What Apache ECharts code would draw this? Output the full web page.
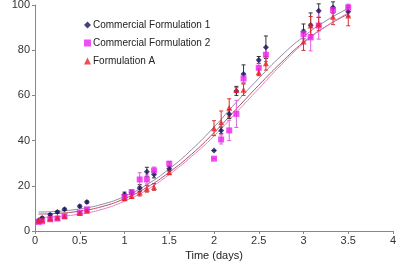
<!DOCTYPE html>
<html>
<head>
<meta charset="utf-8">
<script src="https://cdn.jsdelivr.net/npm/echarts@6/dist/echarts.min.js"></script>
<style>
  html, body { margin: 0; padding: 0; background: #fff; }
  #chart { width: 397px; height: 261px; }
</style>
</head>
<body>
<div id="chart"></div>
<script>
// sampling times (days)
const times = [0.04, 0.08, 0.17, 0.25, 0.33, 0.5, 0.58, 1, 1.08, 1.17, 1.25, 1.33, 1.5,
  2, 2.08, 2.17, 2.25, 2.33, 2.5, 2.58, 3, 3.08, 3.17, 3.33, 3.5];

// cumulative % released
const cf1 = [4.7, 5.7, 7.2, 8.4, 9.6, 11, 12.8, 16.2, 17, 19, 26.2, 25, 27.5,
  35.6, 44.5, 51.8, 62, 69.5, 75.7, 81.3, 88.3, 91, 97.5, 98.9, 97];
const cf2 = [4, 4.3, 5.2, 5.5, 6.6, 8.1, 9.6, 15, 17.2, 22.8, 22.8, 26.8, 29.8,
  32, 40.5, 44.5, 51.8, 67.5, 72.2, 78, 87.2, 85.7, 90.9, 97.8, 98.9];
const fa = [4.5, 5, 5.5, 6, 6.5, 8, 9, 14.5, 15.5, 17, 18.7, 19.5, 26,
  45.5, 48.1, 54.5, 62.4, 62.5, 70.2, 74.2, 83.9, 90.9, 91.6, 94.8, 95.3];

// error bars (+/-)
const cf1Err = [0.5, 0.5, 0.5, 0.5, 0.5, 0.5, 0.5, 1, 1, 1.5, 2, 1.5, 1,
  0, 1.5, 2, 2, 4, 1.5, 5, 3.3, 5.5, 3, 2.5, 2];
const cf2Err = [0.5, 0.5, 0.5, 0.5, 0.5, 0.5, 0.5, 1, 1, 3, 2, 1.5, 1,
  0, 2, 4.5, 6, 2, 3, 3, 2, 6, 6, 1.5, 1.5];
const faErr = [0.5, 0.5, 0.5, 0.5, 0.5, 0.5, 0.5, 1, 1, 1.5, 1.5, 1.5, 1,
  3.3, 5, 4, 1, 2.5, 1.5, 3, 4, 4, 3, 3.5, 4.5];

// fitted curves
const fitX = [0.04, 0.25, 0.5, 0.75, 1, 1.25, 1.5, 1.75, 2, 2.25, 2.5, 2.75, 3, 3.25, 3.5];
const fit1 = [8.4, 8.7, 9.8, 11.8, 15.3, 20.5, 27.5, 36, 46, 57, 67.5, 77.5, 86, 93, 98.5];
const fit2 = [7.5, 7.8, 8.8, 10.8, 14.3, 19.3, 26, 34, 43.5, 54, 64.5, 74.5, 83.5, 90.5, 96];
const fit3 = [6, 6.4, 7.5, 9.6, 13.2, 18.2, 25, 33, 42, 52.5, 63, 73.5, 83, 90.5, 96.5];

const names = ['Commercial Formulation 1', 'Commercial Formulation 2', 'Formulation A'];
const colors = ['#14145e', '#ee22ee', '#e8202a'];

function pairs(xs, ys) { return xs.map((x, i) => [x, ys[i]]); }
function errData(ys, es) { return times.map((t, i) => [t, ys[i], es[i]]); }

function errSeries(ys, es, color) {
  return {
    type: 'custom',
    data: errData(ys, es),
    z: 1,
    silent: true,
    renderItem: function (params, api) {
      const x = api.value(0), y = api.value(1), e = api.value(2);
      const top = api.coord([x, y + e]);
      const bot = api.coord([x, y - e]);
      const s = { stroke: color, lineWidth: 1 };
      return {
        type: 'group',
        children: [
          { type: 'line', shape: { x1: top[0], y1: top[1], x2: bot[0], y2: bot[1] }, style: s },
          { type: 'line', shape: { x1: top[0] - 2, y1: top[1], x2: top[0] + 2, y2: top[1] }, style: s },
          { type: 'line', shape: { x1: bot[0] - 2, y1: bot[1], x2: bot[0] + 2, y2: bot[1] }, style: s }
        ]
      };
    }
  };
}

function fitSeries(ys, color) {
  return {
    type: 'line',
    data: pairs(fitX, ys),
    smooth: true,
    symbol: 'none',
    silent: true,
    z: 0,
    lineStyle: { color: color, width: 1 }
  };
}

const chart = echarts.init(document.getElementById('chart'));
chart.setOption({
  animation: false,
  textStyle: { fontFamily: 'Liberation Sans, Arial, sans-serif' },
  grid: { left: 35, right: 4, top: 5, bottom: 30, containLabel: false, outerBoundsMode: 'none' },
  legend: {
    data: names,
    orient: 'vertical',
    left: 79,
    top: 15,
    itemGap: 8,
    itemWidth: 7,
    itemHeight: 7,
    textStyle: { fontSize: 10, color: '#222', padding: [0, 0, 0, -3] }
  },
  xAxis: {
    type: 'value',
    min: 0, max: 4, interval: 0.5,
    name: 'Time (days)',
    nameLocation: 'middle',
    nameGap: 16,
    nameTextStyle: { fontSize: 11, color: '#222' },
    axisLine: { lineStyle: { color: '#888' } },
    axisTick: { length: 3, lineStyle: { color: '#888' } },
    axisLabel: { fontSize: 11, color: '#333', margin: 4 },
    splitLine: { show: false }
  },
  yAxis: {
    type: 'value',
    min: 0, max: 100, interval: 20,
    name: 'cumulative % released',
    nameLocation: 'middle',
    nameGap: 25,
    nameTextStyle: { fontSize: 11, color: '#222' },
    axisLine: { show: true, lineStyle: { color: '#888' } },
    axisTick: { show: true, length: 3, lineStyle: { color: '#888' } },
    axisLabel: { fontSize: 11, color: '#333', margin: 5 },
    splitLine: { show: false }
  },
  series: [
    fitSeries(fit1, '#8c8aa6'),
    fitSeries(fit2, '#b0505e'),
    fitSeries(fit3, '#e87fc8'),
    errSeries(cf1, cf1Err, '#333'),
    errSeries(cf2, cf2Err, '#e060e0'),
    errSeries(fa, faErr, '#d83030'),
    { name: names[0], type: 'scatter', data: pairs(times, cf1), symbol: 'diamond', symbolSize: 6, itemStyle: { color: colors[0] }, z: 3 },
    { name: names[1], type: 'scatter', data: pairs(times, cf2), symbol: 'rect', symbolSize: 6, itemStyle: { color: colors[1] }, z: 3 },
    { name: names[2], type: 'scatter', data: pairs(times, fa), symbol: 'triangle', symbolSize: 6, itemStyle: { color: colors[2] }, z: 3 }
  ]
});
</script>
</body>
</html>
